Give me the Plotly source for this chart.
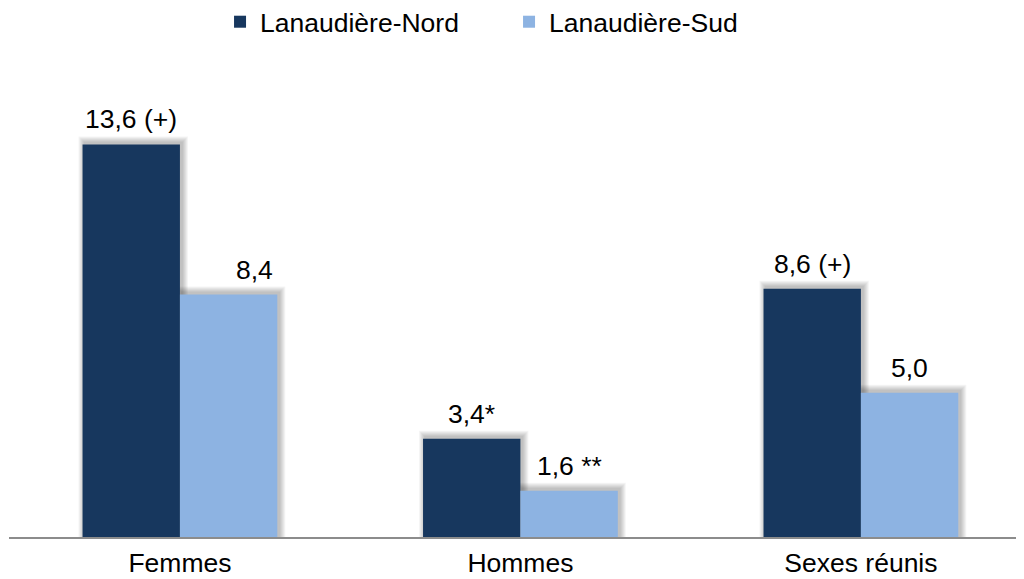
import plotly.graph_objects as go

categories = ["Femmes", "Hommes", "Sexes réunis"]
nord_values = [13.6, 3.4, 8.6]
sud_values = [8.4, 1.6, 5.0]
nord_labels = ["13,6 (+)", "3,4*", "8,6 (+)"]
sud_labels = ["8,4", "1,6 **", "5,0"]
series_names = ["Lanaudière-Nord", "Lanaudière-Sud"]

NORD_COLOR = "#17375E"
SUD_COLOR = "#8DB3E2"
FONT = "Liberation Sans, Arial, sans-serif"
FS = 26.5

# geometry (the page adds an 8px body margin)
L_MARGIN, R_MARGIN, T_MARGIN, B_MARGIN = 1, 0, 96, 42
W, H = 1016, 571
X_RANGE = [-0.502, 2.479]
Y_RANGE = [0, 15]
px_x = (W - L_MARGIN - R_MARGIN) / (X_RANGE[1] - X_RANGE[0])
px_y = (H - T_MARGIN - B_MARGIN) / (Y_RANGE[1] - Y_RANGE[0])

BAR_W = 0.286
x_idx = list(range(len(categories)))

fig = go.Figure()

series = [
    (nord_values, NORD_COLOR, series_names[0], -BAR_W, nord_labels),
    (sud_values, SUD_COLOR, series_names[1], 0.0, sud_labels),
]

# soft shadows (layered translucent rectangles)
for vals, _, _, off, _ in series:
    for e in range(1, 7):
        ex = e / px_x
        ey = e / px_y
        dx = 2 / px_x
        dy = 2 / px_y
        fig.add_trace(go.Bar(
            x=x_idx, y=[v + ey + dy for v in vals],
            width=BAR_W + 2 * ex, offset=off - ex + dx,
            marker=dict(color="rgba(0,0,0,0.045)", line=dict(width=0)),
            showlegend=False, hoverinfo="skip",
        ))

for vals, color, name, off, _ in series:
    fig.add_trace(go.Bar(
        x=x_idx, y=vals, width=BAR_W, offset=off, name=name,
        marker=dict(color=color, line=dict(width=0)),
    ))

label_xshift = {("sud", 0): 26}
annotations = []
for key, (vals, _, _, off, labels) in zip(["nord", "sud"], series):
    for i, (v, t) in enumerate(zip(vals, labels)):
        annotations.append(dict(
            x=i + off + BAR_W / 2, y=v, xref="x", yref="y", text=t,
            showarrow=False, yanchor="bottom", yshift=8,
            xshift=label_xshift.get((key, i), 0),
            font=dict(family=FONT, size=FS, color="#000000"),
        ))

fig.update_layout(
    width=W, height=H,
    barmode="overlay",
    plot_bgcolor="white", paper_bgcolor="white",
    margin=dict(l=L_MARGIN, r=R_MARGIN, t=T_MARGIN, b=B_MARGIN, autoexpand=False),
    font=dict(family=FONT, size=FS, color="#000000"),
    annotations=annotations,
    legend=dict(
        orientation="h", xref="container", yref="container",
        x=0.2087, xanchor="left", y=0.9755, yanchor="middle",
        font=dict(family=FONT, size=FS, color="#000000"),
        entrywidth=244, entrywidthmode="pixels",
        bgcolor="rgba(0,0,0,0)",
    ),
    xaxis=dict(
        range=X_RANGE, tickmode="array", tickvals=x_idx, ticktext=categories,
        showline=True, linecolor="#8c8c8c", linewidth=1.5,
        showgrid=False, zeroline=False, ticks="", ticklabelstandoff=1,
        tickfont=dict(family=FONT, size=FS, color="#000000"),
    ),
    yaxis=dict(range=Y_RANGE, visible=False, showgrid=False, zeroline=False),
)

fig.write_html("out.html")
